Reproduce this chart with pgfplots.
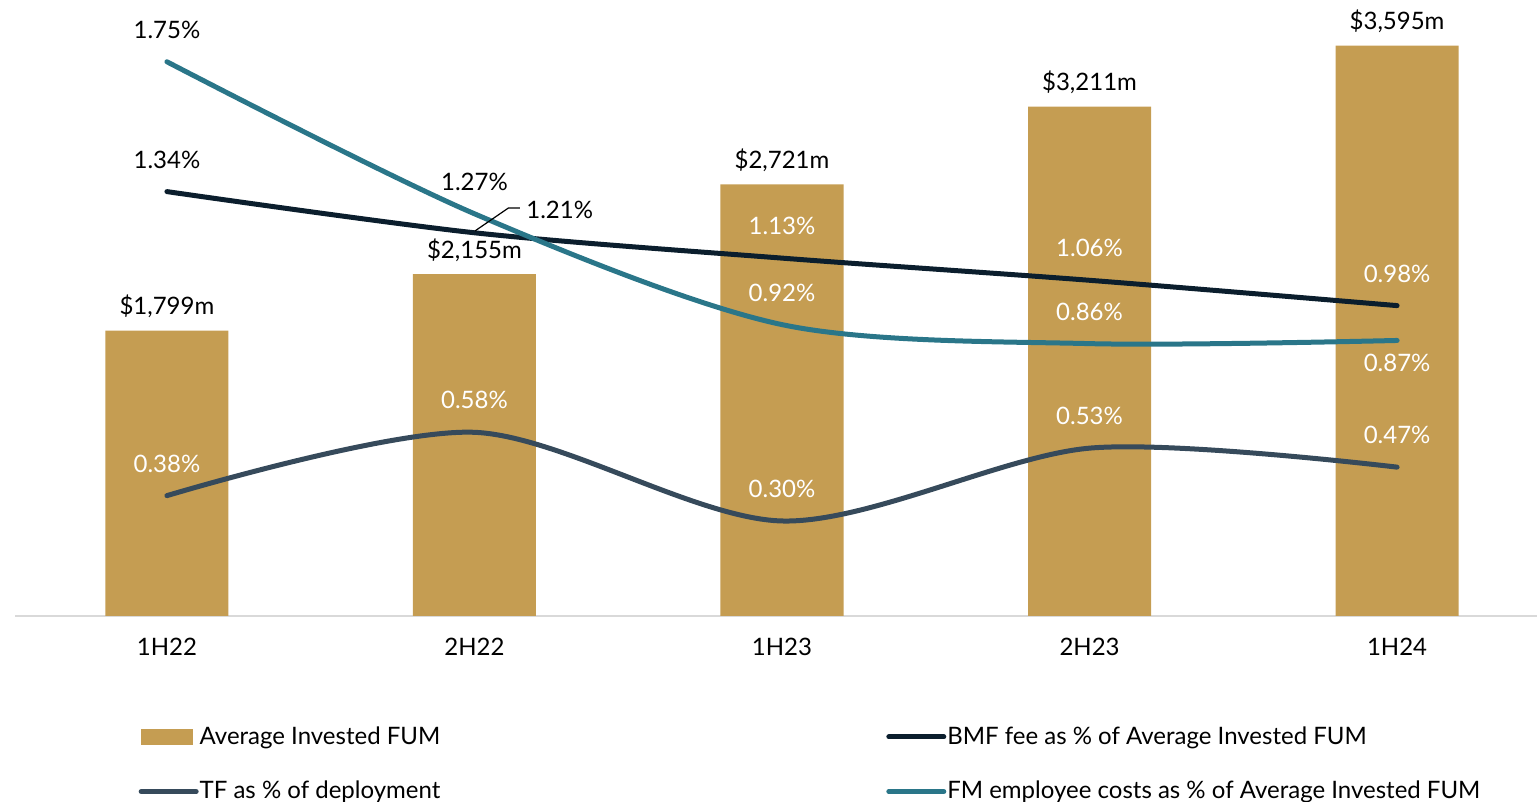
\documentclass[border=0pt]{standalone}
\usepackage{fontspec}
\setmainfont{Lato}
\usepackage{pgfplots}
\pgfplotsset{compat=1.18}

\definecolor{fumgold}{HTML}{C59D52}
\definecolor{bmfnavy}{HTML}{0B1E2D}
\definecolor{tfslate}{HTML}{364A5B}
\definecolor{fmteal}{HTML}{2A7689}

\tikzset{above lbl/.style={yshift=16pt, text=white}}
\pgfplotsset{
  base/.style={
    scale only axis, width=761pt, height=308pt,
    at={(0pt,0pt)}, anchor=south west,
    xmin=-0.494, xmax=4.455, ymin=0,
    clip=false,
    /pgf/number format/assume math mode=true,
    font=\fontsize{12}{14}\selectfont,
    legend cell align=left,
    legend style={draw=none, fill=none, inner sep=0pt, row sep=14pt,
      anchor=north west, font=\fontsize{12}{14}\selectfont,
      nodes={inner xsep=0.5pt, inner ysep=1.5pt}},
  },
  lineimg/.style={legend image code/.code={\draw[##1, line cap=round] (0pt,0pt) -- (27.5pt,0pt);}},
}

\begin{document}
\begin{tikzpicture}
% bars: Average Invested FUM
\begin{axis}[base,
  ymax=3884,
  axis x line*=bottom, axis y line=none,
  x axis line style={draw=black!15, line width=1pt},
  xtick={0,...,4}, xticklabels={1H22,2H22,1H23,2H23,1H24},
  major tick length=0pt,
  xticklabel style={anchor=center, yshift=-15.5pt},
  legend style={at={(axis description cs:0.081,-0.174)}},
]
\addlegendimage{legend image code/.code={\fill[fumgold] (0pt,-3.75pt) rectangle (25.5pt,3.75pt);}}
\addlegendentry{Average Invested FUM}
\addlegendimage{tfslate, line width=2.5pt, lineimg}
\addlegendentry{TF as \% of deployment}
\addplot[ybar, bar width=0.4, fill=fumgold, draw=none, forget plot,
  nodes near coords={\$\pgfmathprintnumber[1000 sep={,}]{\pgfplotspointmeta}m},
  every node near coord/.append style={anchor=center, yshift=12pt, text=black}]
  coordinates {(0,1799) (1,2155) (2,2721) (3,3211) (4,3595)};
\end{axis}

% lines: percentages
\begin{axis}[base,
  ymax=1.945, hide axis,
  legend style={at={(axis description cs:0.5722,-0.174)}},
]
\addlegendimage{bmfnavy, line width=2.5pt, lineimg}
\addlegendentry{BMF fee as \% of Average Invested FUM}
\addlegendimage{fmteal, line width=2.5pt, lineimg}
\addlegendentry{FM employee costs as \% of Average Invested FUM}

\addplot[bmfnavy, line width=2.5pt, line cap=round, smooth, forget plot]
  coordinates {(0,1.34) (1,1.21) (2,1.13) (3,1.06) (4,0.98)};
\addplot[tfslate, line width=2.5pt, line cap=round, smooth, forget plot]
  coordinates {(0,0.38) (1,0.58) (2,0.30) (3,0.53) (4,0.47)};
\addplot[fmteal, line width=2.5pt, line cap=round, smooth, forget plot]
  coordinates {(0,1.75) (1,1.27) (2,0.92) (3,0.86) (4,0.87)};

% data labels
\node[above lbl, text=black] at (axis cs:0,1.75) {1.75\%};
\node[above lbl, text=black] at (axis cs:0,1.34) {1.34\%};
\node[above lbl] at (axis cs:0,0.38) {0.38\%};
\node[above lbl, text=black] at (axis cs:1,1.27) {1.27\%};
\node[above lbl] at (axis cs:1,0.58) {0.58\%};
\draw[black, line width=0.6pt] (axis cs:1.002,1.216) -- (axis cs:1.11,1.288) -- (axis cs:1.148,1.288);
\node[anchor=west, inner sep=1pt] at (axis cs:1.161,1.282) {1.21\%};
\node[above lbl] at (axis cs:2,1.13) {1.13\%};
\node[above lbl] at (axis cs:2,0.92) {0.92\%};
\node[above lbl] at (axis cs:2,0.30) {0.30\%};
\node[above lbl] at (axis cs:3,1.06) {1.06\%};
\node[above lbl] at (axis cs:3,0.86) {0.86\%};
\node[above lbl] at (axis cs:3,0.53) {0.53\%};
\node[above lbl] at (axis cs:4,0.98) {0.98\%};
\node[text=white, yshift=-11pt] at (axis cs:4,0.87) {0.87\%};
\node[above lbl] at (axis cs:4,0.47) {0.47\%};
\end{axis}
\pgfresetboundingbox
\useasboundingbox (-7.5pt,-93pt) rectangle (761pt,308pt);
\end{tikzpicture}
\end{document}
